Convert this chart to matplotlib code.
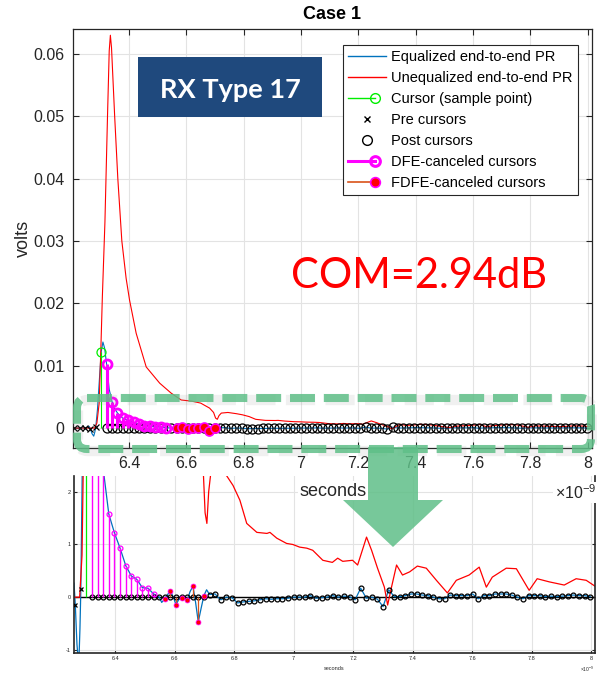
import numpy as np
import matplotlib
matplotlib.use("Agg")
import matplotlib.pyplot as plt
from matplotlib.lines import Line2D
from matplotlib.patches import Rectangle, FancyBboxPatch, Polygon
from matplotlib.legend_handler import HandlerBase
from matplotlib.ticker import FormatStrFormatter

plt.rcParams["font.family"] = ["Liberation Sans", "DejaVu Sans"]
plt.rcParams["mathtext.fontset"] = "custom"
plt.rcParams["mathtext.rm"] = "Liberation Sans"
plt.rcParams["mathtext.it"] = "Liberation Sans:italic"

BLUE = "#0072BD"
GREEN = "#00ee00"
MAGENTA = "#ff00ff"
ORANGE = "#D95319"
ARROWGREEN = "#5fbf88"

# sample grid (ns)
UI = 0.018824
T_CURSOR = 6.303

# equalized pulse response, t in ns, amplitude in mV (tail follows the post cursors)
eq_t = [6.204, 6.222, 6.235, 6.247, 6.255, 6.261, 6.2654, 6.271, 6.277, 6.281, 6.284,
        6.290, 6.297, 6.303, 6.309, 6.315, 6.322, 6.331, 6.341, 6.350, 6.360, 6.378,
        6.397, 6.416, 6.435, 6.454, 6.472, 6.491, 6.510, 6.529, 6.548, 6.556, 6.567,
        6.576, 6.585, 6.595, 6.604, 6.613, 6.623, 6.632, 6.642, 6.651, 6.661, 6.670,
        6.679, 6.689, 6.698, 6.707, 6.717, 6.736, 6.745, 6.755]
eq_mv = [0.0, 0.0, 0.05, 0.0, 0.15, 0.27, -0.15, -0.9, -1.3, -0.6, 0.15,
         3.0, 8.0, 12.2, 13.8, 12.8, 10.2, 6.2, 4.2, 3.1, 2.4, 1.58,
         1.22, 0.93, 0.60, 0.40, 0.34, 0.18, 0.17, 0.06, 0.0, -0.10, -0.03,
         0.05, 0.12, 0.0, -0.14, -0.05, -0.01, 0.0, -0.06, 0.10, 0.21, -0.10,
         -0.47, -0.20, 0.03, 0.14, 0.05, 0.06, 0.0, -0.05]

# unequalized pulse response
uneq_t = [6.204, 6.250, 6.280, 6.288, 6.296, 6.302, 6.307, 6.316, 6.325, 6.331, 6.335,
          6.339, 6.350, 6.361, 6.375, 6.390, 6.402, 6.425, 6.460, 6.507, 6.547, 6.582, 6.620,
          6.650, 6.681, 6.695, 6.702, 6.708, 6.714, 6.722, 6.745, 6.775, 6.796, 6.819,
          6.842, 6.876, 6.910, 6.920, 6.943, 6.976, 6.997, 7.020, 7.044, 7.064, 7.098,
          7.130, 7.148, 7.165, 7.198, 7.215, 7.245, 7.262, 7.282, 7.305, 7.316, 7.329,
          7.346, 7.366, 7.390, 7.416, 7.446, 7.480, 7.517, 7.547, 7.590, 7.624, 7.648,
          7.668, 7.715, 7.749, 7.792, 7.819, 7.860, 7.910, 7.950, 7.984, 8.013]
uneq_mv = [0.0, 0.0, 0.0, 0.8, 4.0, 13.0, 21.0, 33.0, 50.0, 60.5, 63.0,
           61.0, 50.0, 40.0, 30.0, 24.0, 20.5, 15.2, 9.8, 7.2, 5.6, 4.5, 4.3,
           4.0, 3.2, 2.5, 1.6, 1.40, 2.0, 2.4, 2.5, 2.3, 2.12, 1.84,
           1.40, 1.23, 1.21, 1.23, 1.12, 1.02, 1.0, 0.95, 0.93, 0.89, 0.70,
           0.66, 0.74, 0.68, 0.70, 0.61, 1.14, 0.89, 0.55, 0.19, -0.15, 0.19,
           0.61, 0.42, 0.48, 0.59, 0.55, 0.32, 0.08, 0.32, 0.42, 0.57, 0.19,
           0.38, 0.55, 0.54, 0.13, 0.35, 0.29, 0.23, 0.35, 0.32, 0.21]

cursor_mv = 12.2

pre_k = [-5, -4, -3, -2, -1]
pre_mv = [0.0, 0.05, -0.05, -0.15, 0.15]

dfe_k = list(range(1, 13))
dfe_mv = [10.2, 4.2, 2.4, 1.58, 1.22, 0.93, 0.60, 0.40, 0.34, 0.18, 0.17, 0.06]

fdfe_k = list(range(14, 22))
fdfe_mv = [-0.03, 0.12, -0.14, -0.01, -0.06, 0.21, -0.47, 0.03]

post_k = list(range(1, 91))
post_mv = [0.0] * 21 + [
    0.05, 0.06, -0.05, 0.0, -0.01, -0.11, -0.09, -0.08, -0.07, -0.05, -0.03, -0.04, -0.03, -0.03, -0.02,
    0.0, 0.0, 0.0, 0.03, -0.02, -0.01, 0.0, 0.03, 0.0, 0.02, 0.01, -0.05, 0.17, -0.02, 0.0,
    -0.04, -0.18, 0.14, 0.01, 0.01, 0.03, 0.06, 0.06, 0.04, 0.03, 0.0, -0.03, -0.03, 0.04,
    0.03, 0.03, 0.03, 0.06, -0.03, 0.03, 0.03, 0.06, 0.06, 0.06, 0.04, 0.0, -0.03, 0.03,
    0.03, 0.03, 0.01, 0.02, 0.01, 0.02, 0.03, 0.04, 0.03, 0.03, 0.01]

xticks = [6.4, 6.6, 6.8, 7.0, 7.2, 7.4, 7.6, 7.8, 8.0]


def tsamp(k):
    return T_CURSOR + UI * np.array(k)


class StemHandler(HandlerBase):
    # matlab style stem legend: line with marker near the right end
    def create_artists(self, legend, orig, xdescent, ydescent, width, height, fontsize, trans):
        y = (height - ydescent) / 2
        xm = -xdescent + 0.72 * width
        ln = Line2D([-xdescent, xm], [y, y], color=orig.get_color(), lw=orig.get_linewidth())
        mk = Line2D([xm], [y], ls="none", marker="o", ms=orig.get_markersize(),
                    mfc=orig.get_markerfacecolor(), mec=orig.get_markeredgecolor(),
                    mew=orig.get_markeredgewidth())
        ln.set_transform(trans)
        mk.set_transform(trans)
        return [ln, mk]


def draw_pr(ax, scale, lw, ms, dlw, dmew, base):
    post_t = tsamp(post_k)
    tail = np.array(post_k) >= 25
    et = np.concatenate([eq_t, post_t[tail]])
    ev = np.concatenate([eq_mv, np.array(post_mv)[tail]])
    if base:
        ax.axhline(0, color="k", lw=1.0, zorder=1)
    ax.plot(et, ev * scale, color=BLUE, lw=lw, zorder=2)
    ax.plot(uneq_t, np.array(uneq_mv) * scale, color="red", lw=lw, zorder=2)
    ax.vlines(T_CURSOR, 0, cursor_mv * scale, color=GREEN, lw=lw, zorder=3)
    ax.plot(T_CURSOR, cursor_mv * scale, "o", mfc="none", mec=GREEN, ms=ms, mew=0.9, zorder=3)
    ax.plot(tsamp(pre_k), np.array(pre_mv) * scale, "x", color="k", ms=ms * 0.75, mew=0.9, zorder=3)
    ax.plot(post_t, np.array(post_mv) * scale, "o", mfc="none", mec="k", ms=ms, mew=0.9, zorder=3)
    ax.vlines(tsamp(dfe_k), 0, np.array(dfe_mv) * scale, color=MAGENTA, lw=dlw, zorder=4)
    ax.plot(tsamp(dfe_k), np.array(dfe_mv) * scale, "o", mfc="none", mec=MAGENTA,
            ms=ms, mew=dmew, zorder=4)
    ax.vlines(tsamp(fdfe_k), 0, np.array(fdfe_mv) * scale, color=ORANGE, lw=lw, zorder=4)
    ax.plot(tsamp(fdfe_k), np.array(fdfe_mv) * scale, "o", mfc="red", mec=MAGENTA,
            ms=ms, mew=dmew * 0.6, zorder=5)


fig = plt.figure(figsize=(5.97, 6.74), dpi=100)

# main plot
ax = fig.add_axes([72.7 / 597, 226 / 674, 519 / 597, 419 / 674])
draw_pr(ax, 1e-3, 0.8, 6.5, 2.2, 2.0, False)
ax.set_xlim(6.2036, 8.014)
ax.set_ylim(-0.0032, 0.064)
ax.set_xticks(xticks)
ax.set_yticks([0, 0.01, 0.02, 0.03, 0.04, 0.05, 0.06])
ax.xaxis.set_major_formatter(FormatStrFormatter("%g"))
ax.yaxis.set_major_formatter(FormatStrFormatter("%g"))
ax.tick_params(direction="in", top=True, right=True, length=4, width=0.8,
               colors="#262626", labelsize=11.5, pad=6)
ax.grid(True, color="#e3e3e3", lw=0.8)
ax.set_axisbelow(True)
for s in ax.spines.values():
    s.set_color("#262626")
    s.set_linewidth(0.9)
ax.set_title("Case 1", fontsize=13, fontweight="bold", pad=7)
ax.set_ylabel("volts", fontsize=13, color="#262626", labelpad=1)

h_eq = Line2D([], [], color=BLUE, lw=1.0)
h_un = Line2D([], [], color="red", lw=1.0)
h_cur = Line2D([], [], color=GREEN, lw=1.0, marker="o", mfc="none", mec=GREEN, ms=7, mew=1)
h_pre = Line2D([], [], ls="none", marker="x", color="k", ms=5, mew=1)
h_post = Line2D([], [], ls="none", marker="o", mfc="none", mec="k", ms=7, mew=1)
h_dfe = Line2D([], [], color=MAGENTA, lw=2.2, marker="o", mfc="none", mec=MAGENTA, ms=7, mew=2.2)
h_fdfe = Line2D([], [], color=ORANGE, lw=1.2, marker="o", mfc="red", mec=MAGENTA, ms=7, mew=1.2)
leg = ax.legend([h_eq, h_un, h_cur, h_pre, h_post, h_dfe, h_fdfe],
                ["Equalized end-to-end PR", "Unequalized end-to-end PR", "Cursor (sample point)",
                 "Pre cursors", "Post cursors", "DFE-canceled cursors", "FDFE-canceled cursors"],
                handler_map={h_cur: StemHandler(), h_dfe: StemHandler(), h_fdfe: StemHandler()},
                loc="upper right", bbox_to_anchor=(578 / 597, 1 - 45 / 674),
                bbox_transform=fig.transFigure, borderaxespad=0, fontsize=10.5,
                fancybox=False, framealpha=1, edgecolor="#262626", handlelength=2.6,
                handletextpad=0.4, labelspacing=0.48, borderpad=0.35)
leg.get_frame().set_linewidth(0.8)

# zoomed copy underneath (mV)
ax2 = fig.add_axes([74 / 597, 21 / 674, 521 / 597, 177 / 674])
draw_pr(ax2, 1.0, 0.9, 3.5, 1.0, 0.9, True)
ax2.set_xlim(6.261, 8.0135)
ax2.set_ylim(-1.06, 2.30)
ax2.set_xticks(xticks)
ax2.set_yticks([-1, 0, 1, 2])
ax2.xaxis.set_major_formatter(FormatStrFormatter("%g"))
ax2.yaxis.set_major_formatter(FormatStrFormatter("%g"))
ax2.tick_params(direction="in", right=True, length=2.5, width=0.8, colors="#262626",
                labelsize=4, pad=2.5)
ax2.grid(True, color="#e3e3e3", lw=0.8)
ax2.set_axisbelow(True)
ax2.spines["top"].set_visible(False)
for s in ["left", "bottom", "right"]:
    ax2.spines[s].set_color("#262626")
    ax2.spines[s].set_linewidth(1.2)

# annotations in pixel coordinates
ov = fig.add_axes([0, 0, 1, 1], zorder=10)
ov.set_xlim(0, 597)
ov.set_ylim(674, 0)
ov.axis("off")

ov.text(333, 491, "seconds", fontsize=13, color="#262626", ha="center", va="center",
        bbox=dict(fc="white", ec="none", pad=1))
ov.text(596, 499, r"$\times10^{-9}$", fontsize=11.5, color="#262626", ha="right",
        va="baseline", bbox=dict(fc="white", ec="none", pad=1))
ov.text(334, 669, "seconds", fontsize=4, color="#262626", ha="center", va="center")
ov.text(594, 669, r"$\times10^{-9}$", fontsize=3.5, color="#262626", ha="right", va="center")

ov.add_patch(Rectangle((138, 57), 184, 60, fc="#1F497D", ec="none", zorder=11))
ov.text(230, 97.5, "RX Type 17", fontsize=19.5, fontweight="bold", family="Lato",
        color="white", ha="center", va="baseline", zorder=12)
ov.text(419.5, 288, "COM=2.94dB", fontsize=30, family="Lato", color="red",
        ha="center", va="baseline", zorder=12)

ov.add_patch(FancyBboxPatch((78, 400), 514, 51, boxstyle="round,pad=0,rounding_size=10",
                            fc="none", ec="#888888", alpha=0.12, lw=7.5,
                            ls=(0, (2.8, 1.0)), zorder=11))
ov.add_patch(FancyBboxPatch((77, 398), 514, 51, boxstyle="round,pad=0,rounding_size=10",
                            fc="none", ec=ARROWGREEN, alpha=0.85, lw=5.8,
                            ls=(0, (3.1, 1.1)), zorder=12))
ov.add_patch(Polygon([(368, 447), (418, 447), (418, 500), (443, 500), (393, 547),
                      (343, 500), (368, 500)], closed=True, fc=ARROWGREEN, ec="none",
                     alpha=0.85, zorder=12))

fig.savefig("out.png", dpi=100)
